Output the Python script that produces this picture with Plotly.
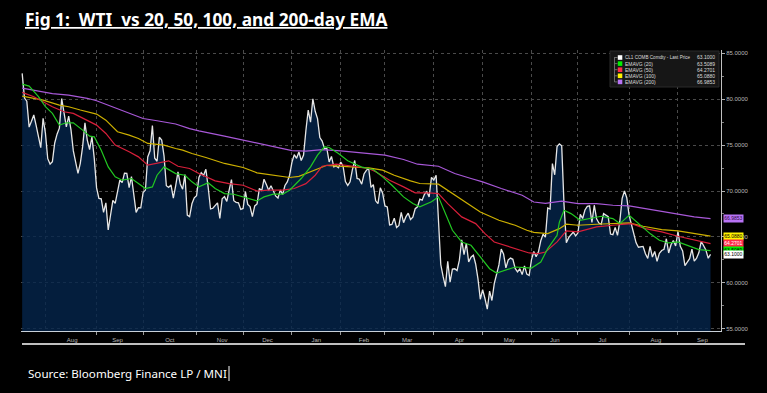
import pandas as pd
import plotly.graph_objects as go

# ---------------- DATA ----------------
HOLIDAYS = ["2024-09-02", "2024-11-28", "2024-12-25", "2025-01-01", "2025-01-20",
            "2025-02-17", "2025-04-18", "2025-05-26", "2025-06-19", "2025-07-04",
            "2025-09-01"]

MONTH_SPANS = [("2024-07-18", "2024-07-31"), ("2024-08-01", "2024-08-31"),
               ("2024-09-01", "2024-09-30"), ("2024-10-01", "2024-10-31"),
               ("2024-11-01", "2024-11-30"), ("2024-12-01", "2024-12-31"),
               ("2025-01-01", "2025-01-31"), ("2025-02-01", "2025-02-28"),
               ("2025-03-01", "2025-03-31"), ("2025-04-01", "2025-04-30"),
               ("2025-05-01", "2025-05-31"), ("2025-06-01", "2025-06-30"),
               ("2025-07-01", "2025-07-31"), ("2025-08-01", "2025-08-31"),
               ("2025-09-01", "2025-09-22")]

wti_2024_07 = [82.82, 80.13, 79.78, 76.96, 77.59, 78.28, 77.16, 75.81, 74.73, 77.91]
wti_2024_08 = [76.31, 73.52, 72.94, 73.20, 75.23, 76.19, 76.84, 80.06, 78.35, 76.98, 78.16,
               76.65, 74.37, 73.17, 71.93, 73.01, 74.83, 77.42, 75.53, 74.52, 75.91, 73.55]
wti_2024_09 = [70.34, 69.20, 69.15, 67.67, 68.71, 65.75, 67.31, 68.97, 68.65, 70.09,
               71.19, 70.91, 71.95, 71.92, 70.37, 71.56, 69.69, 67.67, 68.18, 68.17]
wti_2024_10 = [69.83, 70.10, 73.71, 74.38, 77.14, 73.57, 73.24, 75.85, 75.56, 73.83, 70.58,
               70.39, 70.67, 69.22, 70.56, 72.09, 70.77, 70.19, 71.78, 67.38, 67.21, 68.61, 69.26]
wti_2024_11 = [69.49, 71.47, 71.99, 71.69, 72.36, 70.38, 68.04, 68.12, 68.43, 68.70,
               67.02, 69.16, 69.39, 68.87, 70.10, 71.24, 68.94, 68.77, 68.72, 68.00]
wti_2024_12 = [68.10, 69.94, 68.54, 68.30, 67.20, 68.37, 68.59, 70.29, 70.02, 71.29, 70.71,
               70.08, 70.58, 69.91, 69.46, 69.24, 70.10, 69.62, 70.60, 70.99, 71.72]
wti_2025_01 = [73.13, 73.96, 73.56, 74.25, 73.32, 73.92, 76.57, 78.82, 77.50, 80.04, 78.68,
               77.88, 75.83, 75.44, 74.62, 74.66, 73.17, 73.77, 72.62, 72.73, 72.53]
wti_2025_02 = [73.16, 72.70, 71.03, 70.61, 71.00, 72.32, 73.32, 71.37, 71.29, 70.74,
               71.85, 72.25, 72.48, 70.40, 70.70, 68.93, 68.62, 70.35, 69.76]
wti_2025_03 = [68.37, 68.26, 66.31, 66.36, 67.04, 66.03, 66.25, 67.68, 66.55, 67.18, 67.58,
               66.90, 67.16, 68.07, 68.28, 69.11, 69.00, 69.65, 69.92, 69.36, 71.48]
wti_2025_04 = [71.20, 71.71, 66.95, 61.99, 60.70, 59.58, 62.35, 60.07, 61.50, 61.53, 61.33,
               62.47, 64.68, 63.08, 64.31, 62.27, 62.79, 63.02, 62.05, 60.42, 58.21]
wti_2025_05 = [59.24, 58.29, 57.13, 59.09, 58.07, 59.91, 61.02, 61.95, 63.67, 63.15, 61.62,
               62.49, 62.69, 62.56, 61.57, 61.20, 61.53, 60.89, 61.84, 60.94, 60.79]
wti_2025_06 = [62.52, 63.41, 62.85, 63.37, 64.58, 65.29, 64.98, 68.15, 68.04, 72.98,
               71.77, 74.84, 75.14, 74.93, 68.51, 64.37, 64.92, 65.24, 65.52, 65.11]
wti_2025_07 = [65.45, 67.45, 67.00, 67.93, 68.33, 68.38, 66.57, 68.45, 66.98, 66.52, 66.38,
               67.54, 67.34, 67.20, 65.31, 65.25, 66.03, 65.16, 66.71, 69.21, 70.00, 69.26]
wti_2025_08 = [67.33, 66.29, 65.16, 64.35, 63.88, 63.88, 63.96, 63.17, 62.65, 63.96, 62.80,
               63.42, 62.35, 63.21, 63.52, 63.66, 64.80, 63.25, 64.15, 64.60, 64.01]
wti_2025_09 = [65.59, 63.97, 63.48, 61.87, 62.26, 62.63, 63.67, 62.37, 62.69, 63.30,
               64.52, 64.05, 63.57, 62.68, 63.10]

WTI_MONTHS = [wti_2024_07, wti_2024_08, wti_2024_09, wti_2024_10, wti_2024_11, wti_2024_12,
              wti_2025_01, wti_2025_02, wti_2025_03, wti_2025_04, wti_2025_05, wti_2025_06,
              wti_2025_07, wti_2025_08, wti_2025_09]

ema20_dates = ["2024-07-18", "2024-07-23", "2024-07-29", "2024-08-01", "2024-08-06", "2024-08-09",
               "2024-08-14", "2024-08-19", "2024-08-23", "2024-08-28", "2024-08-30", "2024-09-05",
               "2024-09-10", "2024-09-13", "2024-09-18", "2024-09-24", "2024-09-27", "2024-10-02",
               "2024-10-07", "2024-10-09", "2024-10-14", "2024-10-21", "2024-10-25", "2024-10-30",
               "2024-11-04", "2024-11-08", "2024-11-13", "2024-11-19", "2024-11-25", "2024-12-02",
               "2024-12-10", "2024-12-13", "2024-12-19", "2024-12-26", "2024-12-31", "2025-01-08",
               "2025-01-14", "2025-01-17", "2025-01-23", "2025-01-27", "2025-01-31", "2025-02-06",
               "2025-02-14", "2025-02-20", "2025-02-24", "2025-02-28", "2025-03-06", "2025-03-13",
               "2025-03-19", "2025-03-24", "2025-03-31", "2025-04-03", "2025-04-08", "2025-04-11",
               "2025-04-17", "2025-04-24", "2025-04-30", "2025-05-06", "2025-05-09", "2025-05-15",
               "2025-05-21", "2025-05-28", "2025-06-02", "2025-06-06", "2025-06-11", "2025-06-17",
               "2025-06-18", "2025-06-23", "2025-06-26", "2025-07-02", "2025-07-10", "2025-07-16",
               "2025-07-23", "2025-07-28", "2025-08-01", "2025-08-07", "2025-08-14", "2025-08-20",
               "2025-08-26", "2025-09-02", "2025-09-09", "2025-09-15", "2025-09-22"]
ema20_values = [81.65, 81.43, 80.27, 79.18, 78.45, 77.18,
                77.43, 77.43, 76.63, 75.98, 75.90, 74.45,
                72.63, 71.54, 71.18, 71.36, 70.81, 70.27,
                70.45, 71.72, 72.63, 71.90, 71.72, 71.00,
                70.45, 70.90, 70.27, 69.72, 69.65, 69.36,
                68.92, 69.36, 69.65, 69.65, 70.09, 71.36,
                72.63, 73.90, 74.82, 74.74, 74.09, 73.29,
                72.60, 72.45, 72.34, 71.54, 70.63, 69.36,
                68.63, 68.27, 68.82, 69.36, 67.54, 65.72,
                64.45, 64.09, 62.82, 61.54, 61.07, 61.43,
                61.72, 61.65, 61.60, 62.27, 63.72, 65.18,
                66.60, 67.90, 67.54, 66.81, 67.10, 67.25,
                67.00, 66.45, 67.36, 66.45, 65.36, 64.63,
                64.34, 64.45, 63.98, 63.61, 63.5089]

ema50_dates = ["2024-07-18", "2024-07-25", "2024-08-06", "2024-08-13", "2024-08-19", "2024-08-27",
               "2024-09-03", "2024-09-09", "2024-09-13", "2024-09-23", "2024-09-27", "2024-10-03",
               "2024-10-11", "2024-10-16", "2024-10-22", "2024-10-29", "2024-11-04", "2024-11-13",
               "2024-11-21", "2024-12-02", "2024-12-10", "2024-12-17", "2024-12-26", "2025-01-03",
               "2025-01-10", "2025-01-16", "2025-01-22", "2025-01-30", "2025-02-06", "2025-02-13",
               "2025-02-20", "2025-02-25", "2025-03-05", "2025-03-13", "2025-03-20", "2025-03-28",
               "2025-04-03", "2025-04-09", "2025-04-17", "2025-04-28", "2025-05-02", "2025-05-08",
               "2025-05-19", "2025-05-30", "2025-06-05", "2025-06-10", "2025-06-17", "2025-06-24",
               "2025-07-01", "2025-07-14", "2025-07-23", "2025-07-29", "2025-08-04", "2025-08-12",
               "2025-08-21", "2025-09-02", "2025-09-11", "2025-09-22"]
ema50_values = [80.74, 80.27, 79.18, 78.63, 78.45, 77.72,
                77.18, 76.27, 75.00, 74.27, 73.72, 72.81,
                73.18, 73.29, 72.70, 72.45, 71.90, 71.10,
                70.80, 70.63, 70.00, 70.09, 70.09, 70.27,
                70.80, 71.72, 72.70, 72.92, 72.78, 72.63,
                72.45, 72.09, 71.18, 70.45, 69.80, 69.80,
                69.72, 68.63, 67.18, 66.45, 65.36, 64.45,
                63.90, 63.25, 63.18, 63.36, 64.45, 65.65,
                65.54, 66.09, 66.27, 66.38, 66.45, 65.90,
                65.54, 65.07, 64.70, 64.2701]

ema100_dates = ["2024-07-18", "2024-07-31", "2024-08-09", "2024-08-15", "2024-08-22", "2024-08-28",
                "2024-09-03", "2024-09-09", "2024-09-12", "2024-09-16", "2024-09-23", "2024-09-27",
                "2024-10-03", "2024-10-09", "2024-10-14", "2024-10-21", "2024-10-24", "2024-10-30",
                "2024-11-04", "2024-11-07", "2024-11-19", "2024-12-02", "2024-12-10", "2024-12-19",
                "2024-12-31", "2025-01-07", "2025-01-16", "2025-01-24", "2025-01-31", "2025-02-11",
                "2025-02-20", "2025-02-28", "2025-03-07", "2025-03-18", "2025-03-24", "2025-04-03",
                "2025-04-11", "2025-04-24", "2025-04-30", "2025-05-12", "2025-05-21", "2025-05-29",
                "2025-06-03", "2025-06-11", "2025-06-18", "2025-06-24", "2025-07-01", "2025-07-14",
                "2025-07-23", "2025-08-01", "2025-08-11", "2025-08-21", "2025-09-02", "2025-09-11",
                "2025-09-22"]
ema100_values = [80.34, 79.90, 79.36, 79.18, 78.82, 78.52,
                 78.38, 77.72, 77.00, 76.45, 76.09, 75.72,
                 75.18, 75.10, 75.00, 74.63, 74.45, 74.09,
                 73.83, 73.65, 73.00, 72.56, 71.98, 71.72,
                 71.47, 71.60, 72.27, 72.80, 72.70, 72.63,
                 72.52, 72.27, 71.72, 71.10, 70.82, 70.74,
                 69.72, 68.45, 67.72, 66.81, 66.27, 65.72,
                 65.50, 65.36, 65.90, 66.38, 66.27, 66.38,
                 66.45, 66.52, 66.16, 65.80, 65.65, 65.36,
                 65.0880]

ema200_dates = ["2024-07-18", "2024-08-06", "2024-08-15", "2024-08-27", "2024-09-03", "2024-09-12",
                "2024-09-23", "2024-10-01", "2024-10-09", "2024-10-21", "2024-10-29", "2024-11-04",
                "2024-11-19", "2024-12-02", "2024-12-10", "2024-12-19", "2025-01-02", "2025-01-10",
                "2025-01-22", "2025-02-03", "2025-02-20", "2025-03-03", "2025-03-13", "2025-03-21",
                "2025-04-03", "2025-04-14", "2025-04-24", "2025-05-01", "2025-05-13", "2025-05-27",
                "2025-06-03", "2025-06-10", "2025-06-20", "2025-07-01", "2025-07-14", "2025-07-23",
                "2025-08-01", "2025-08-12", "2025-08-21", "2025-09-02", "2025-09-11", "2025-09-22"]
ema200_values = [81.20, 80.60, 80.45, 80.10, 79.83, 79.18,
                 78.50, 77.90, 77.65, 77.30, 76.80, 76.55,
                 75.98, 75.54, 75.20, 74.80, 74.40, 74.35,
                 74.50, 74.38, 74.10, 73.90, 73.43, 72.92,
                 72.70, 71.90, 71.36, 71.00, 70.27, 69.54,
                 68.80, 68.65, 68.90, 68.63, 68.63, 68.45,
                 68.38, 68.09, 67.72, 67.47, 67.18, 66.9853]

Y_TICKS = [55, 60, 65, 70, 75, 80, 85]

LEGEND_NAMES = ["CL1 COMB Comdty - Last Price", "EMAVG (20)", "EMAVG (50)",
                "EMAVG (100)", "EMAVG (200)"]

# ---------------- BUILD ----------------
dates = []
for s, e in MONTH_SPANS:
    for d in pd.bdate_range(s, e):
        if d.strftime("%Y-%m-%d") not in HOLIDAYS:
            dates.append(d.strftime("%Y-%m-%d"))
prices = [p for m in WTI_MONTHS for p in m]
assert len(dates) == len(prices), (len(dates), len(prices))

W, H = 767, 393
L, R, T, B = 21, 46, 50, 62
PW, PH = W - L - R, H - T - B


def fx(px):
    return (px - L) / PW


def fy(py):
    return (H - B - py) / PH


C_PRICE = "#e6e6e6"
C20, C50, C100, C200 = "#22c822", "#d81f3a", "#cdb000", "#a858d8"
B_PRICE, B20, B50, B100, B200 = "#ffffff", "#00ee00", "#ff2a48", "#fff200", "#b873f5"

fig = go.Figure()
fig.add_trace(go.Scatter(x=dates, y=prices, mode="lines", fill="tozeroy",
                         fillcolor="rgba(5,38,76,0.80)",
                         line=dict(color=C_PRICE, width=1.3), name=LEGEND_NAMES[0]))
for xs, ys, c, n in [(ema200_dates, ema200_values, C200, LEGEND_NAMES[4]),
                     (ema100_dates, ema100_values, C100, LEGEND_NAMES[3]),
                     (ema50_dates, ema50_values, C50, LEGEND_NAMES[2]),
                     (ema20_dates, ema20_values, C20, LEGEND_NAMES[1])]:
    fig.add_trace(go.Scatter(x=xs, y=ys, mode="lines", line=dict(color=c, width=1.2), name=n))

tick_font = dict(family="Liberation Sans, Arial, sans-serif", size=6, color="#b8b8b8")

fig.update_layout(
    width=W, height=H,
    margin=dict(l=L, r=R, t=T, b=B),
    paper_bgcolor="#000000", plot_bgcolor="#000000",
    showlegend=False,
    xaxis=dict(
        type="date",
        range=["2024-07-17 12:00", "2025-09-26 12:00"],
        rangebreaks=[dict(bounds=["sat", "mon"]), dict(values=HOLIDAYS)],
        tick0="2024-07-01", dtick="M1", tickformat="%b", ticklabelmode="period",
        ticks="outside", ticklen=3, tickcolor="#9a9a9a", tickfont=tick_font,
        showgrid=True, gridcolor="#4a4a4a", griddash="dot", gridwidth=1,
        showline=True, linecolor="#c8d0d8", linewidth=1, zeroline=False,
    ),
    yaxis=dict(
        side="right", range=[54.75, 85.36],
        tickvals=Y_TICKS, tickformat=".4f",
        ticks="outside", ticklen=3, tickcolor="#b0b0b0", tickfont=tick_font,
        minor=dict(dtick=2.5, ticks="outside", ticklen=2, tickcolor="#808080", showgrid=False),
        showgrid=True, gridcolor="#4a4a4a", griddash="dot", gridwidth=1,
        showline=True, linecolor="#c0c0c0", linewidth=1, zeroline=False,
    ),
)

shapes = []
annotations = []

# title
annotations.append(dict(
    xref="paper", yref="paper", x=fx(23), y=fy(20), xanchor="left", yanchor="middle",
    text="<b>Fig 1:\u00a0 WTI\u00a0 vs 20, 50, 100, and 200-day EMA</b>", showarrow=False,
    font=dict(family="Noto Sans, Open Sans, sans-serif", size=17.3, color="#ffffff",
              lineposition="under")))
# source
annotations.append(dict(
    xref="paper", yref="paper", x=fx(26), y=fy(373), xanchor="left", yanchor="middle",
    text="Source: Bloomberg Finance LP / MNI", showarrow=False,
    font=dict(family="Noto Sans, Open Sans, sans-serif", size=11.6, color="#ffffff")))
shapes.append(dict(type="line", xref="paper", yref="paper", x0=fx(229), x1=fx(229),
                   y0=fy(366), y1=fy(381), line=dict(color="#ffffff", width=1)))
# separator rule
shapes.append(dict(type="line", xref="paper", yref="paper", x0=fx(22), x1=fx(745),
                   y0=fy(344), y1=fy(344), line=dict(color="#ffffff", width=1.6)))

# legend box
shapes.append(dict(type="rect", xref="paper", yref="paper", x0=fx(610), x1=fx(719),
                   y0=fy(87), y1=fy(51), fillcolor="#161616",
                   line=dict(color="#2a2a2a", width=1), layer="above"))
legend_rows = [(LEGEND_NAMES[0], prices[-1], B_PRICE), (LEGEND_NAMES[1], ema20_values[-1], B20),
               (LEGEND_NAMES[2], ema50_values[-1], B50), (LEGEND_NAMES[3], ema100_values[-1], B100),
               (LEGEND_NAMES[4], ema200_values[-1], B200)]
row_y = [57.5, 63.6, 69.7, 75.8, 81.9]
shapes.append(dict(type="line", xref="paper", yref="paper", x0=fx(614.5), x1=fx(614.5),
                   y0=fy(57), y1=fy(82), line=dict(color="#6a6a6a", width=1), layer="above"))
leg_font = dict(family="Liberation Sans, Arial, sans-serif", size=5.0, color="#dcdcdc")
first_font = dict(family="Liberation Sans, Arial, sans-serif", size=4.6, color="#dcdcdc")
for k, ((name, val, col), py) in enumerate(zip(legend_rows, row_y)):
    shapes.append(dict(type="line", xref="paper", yref="paper", x0=fx(614.5), x1=fx(617.5),
                       y0=fy(py), y1=fy(py), line=dict(color="#6a6a6a", width=1), layer="above"))
    shapes.append(dict(type="rect", xref="paper", yref="paper", x0=fx(617.8), x1=fx(622.3),
                       y0=fy(py + 2.3), y1=fy(py - 2.3), fillcolor=col,
                       line=dict(width=0), layer="above"))
    annotations.append(dict(xref="paper", yref="paper", x=fx(623.3), y=fy(py),
                            xanchor="left", yanchor="middle", text=name, showarrow=False,
                            font=first_font if k == 0 else leg_font))
    annotations.append(dict(xref="paper", yref="paper", x=fx(717), y=fy(py),
                            xanchor="right", yanchor="middle", text=f"{val:.4f}", showarrow=False,
                            font=leg_font))

# right-hand last-value tags
for val, col, fc in [(ema200_values[-1], B200, "#2a0a40"), (ema100_values[-1], B100, "#000000"),
                     (ema50_values[-1], B50, "#ffffff"), (ema20_values[-1], B20, "#000000"),
                     (prices[-1], B_PRICE, "#000000")]:
    annotations.append(dict(xref="paper", yref="y", x=1, y=val, xshift=2,
                            xanchor="left", yanchor="middle", text=f"{val:.4f}", showarrow=False,
                            bgcolor=col, borderpad=0.3,
                            font=dict(family="Liberation Sans, Arial, sans-serif", size=5.0,
                                      color=fc)))

fig.update_layout(shapes=shapes, annotations=annotations)

fig.write_html("out.html", include_plotlyjs=True,
               config={"displayModeBar": False},
               post_script="document.body.style.margin='0';")
